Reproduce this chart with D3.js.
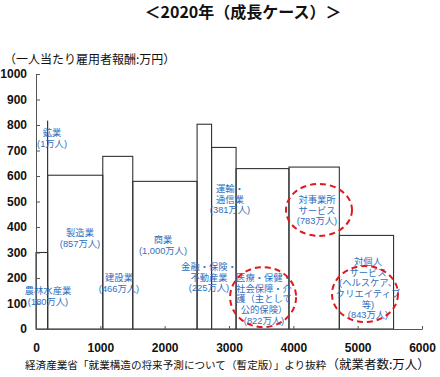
<!DOCTYPE html>
<html><head><meta charset="utf-8">
<script src="https://cdn.jsdelivr.net/npm/d3@7"></script>
<style>
html,body{margin:0;padding:0;background:#fff;}
svg{display:block;}
text{font-family:"Liberation Sans",Arial,"Noto Sans CJK JP",sans-serif;}
.jp{font-family:"Noto Sans CJK JP","Liberation Sans",sans-serif;}
</style>
</head><body>
<script>
// ---- data ----
const industries = ["農林水産業","鉱業","製造業","建設業","商業","金融・保険・不動産業","運輸・通信業","医療・保健・社会保障・介護","対事業所サービス","対個人サービス"];
const workers = [180, 1, 857, 466, 1000, 225, 381, 822, 783, 843];           // 万人
const pay = [300, 815, 603, 677, 579, 803, 712, 629, 635, 367];              // 万円
const labelLines = [
  ["農林水産業","(180万人)"],
  ["鉱業","(1万人)"],
  ["製造業","(857万人)"],
  ["建設業","(466万人)"],
  ["商業","(1,000万人)"],
  ["金融・保険・","不動産業","(225万人)"],
  ["運輸・","通信業","(381万人)"],
  ["医療・保健・","社会保障・介","護（主として","公的保険）","(822万人)"],
  ["対事業所","サービス","(783万人)"],
  ["対個人","サービス","(ヘルスケア、","クリエイティブ","等)","(843万人)"]
];
const xTicks = [0,1000,2000,3000,4000,5000,6000];
const yTicks = [0,100,200,300,400,500,600,700,800,900,1000];
const highlighted = ["医療・保健・社会保障・介護","対事業所サービス","対個人サービス"];

// ---- layout (not data) ----
const W = 440, H = 377;
const labelAnchor = [ // [x in 万人, y in 万円] of first line centre
  [187, 149], [249, 769], [684, 376], [1290, 200], [1974, 349],
  [2689, 243], [3016, 549], [3544, 200], [4368, 507], [5161, 263]
];
const ellipseCenter = { // [x 万人, y 万円]
  "医療・保健・社会保障・介護": [3530, 125],
  "対事業所サービス": [4399, 467],
  "対個人サービス": [5114, 137]
};
const ellipseR = { "医療・保健・社会保障・介護": [33,30], "対事業所サービス": [33,26], "対個人サービス": [33,28] };

const svg = d3.select("body").append("svg").attr("width", W).attr("height", H);
const x = d3.scaleLinear().domain([0, 6000]).range([36, 422]);
const y = d3.scaleLinear().domain([0, 1000]).range([329, 74]);

const starts = [0, ...d3.cumsum(workers)].slice(0, workers.length);
const rows = industries.map((n, i) => ({name: n, start: starts[i], w: workers[i], pay: pay[i], lines: labelLines[i], anchor: labelAnchor[i]}));

// title
svg.append("text").attr("class","jp").attr("x", 243).attr("y", 18).attr("text-anchor","middle")
  .attr("font-size", 16).attr("font-weight", "bold").attr("fill","#111").text("＜2020年（成長ケース）＞");
// y title
svg.append("text").attr("class","jp").attr("x", 4).attr("y", 64).attr("font-size", 12).attr("fill","#111")
  .text("（一人当たり雇用者報酬:万円）");

// bars
svg.append("g").selectAll("rect").data(rows).join("rect")
  .attr("x", d => x(d.start)).attr("width", d => x(d.start + d.w) - x(d.start))
  .attr("y", d => y(d.pay)).attr("height", d => y(0) - y(d.pay))
  .attr("fill", "none").attr("stroke", "#333").attr("stroke-width", 1.1);

// axes
const yAxis = d3.axisLeft(y).tickValues(yTicks).tickSizeInner(-4).tickSizeOuter(0).tickPadding(9).tickFormat(d3.format("d"));
const gy = svg.append("g").attr("transform", `translate(${x(0)},0)`).call(yAxis);
gy.selectAll("text").attr("font-size", 12).attr("fill", "#111").attr("font-weight","bold");
gy.selectAll("line,path").attr("stroke", "#555");

const xAxis = d3.axisBottom(x).tickValues(xTicks).tickSizeInner(-3).tickSizeOuter(0).tickPadding(14).tickFormat(d3.format("d"));
const gx = svg.append("g").attr("transform", `translate(0,${y(0)})`).call(xAxis);
gx.selectAll("text").attr("font-size", 12).attr("fill", "#111").attr("font-weight","bold");
gx.selectAll("line,path").attr("stroke", "#555");

// labels
const lab = svg.append("g").attr("class","jp").attr("fill", "#2f6fc0").attr("font-size", 9.3).attr("text-anchor","middle");
rows.forEach(d => {
  const t = lab.append("text").attr("x", x(d.anchor[0])).attr("y", y(d.anchor[1]));
  d.lines.forEach((ln, k) => {
    t.append("tspan").attr("x", x(d.anchor[0])).attr("dy", k === 0 ? "0.35em" : "10.6").text(ln);
  });
});

// dashed ellipses
svg.append("g").selectAll("ellipse").data(highlighted).join("ellipse")
  .attr("cx", d => x(ellipseCenter[d][0])).attr("cy", d => y(ellipseCenter[d][1]))
  .attr("rx", d => ellipseR[d][0]).attr("ry", d => ellipseR[d][1])
  .attr("fill","none").attr("stroke","#e0191e").attr("stroke-width", 2).attr("stroke-dasharray","6,4");

// source note
const src = svg.append("text").attr("class","jp").attr("x", 25).attr("y", 369).attr("fill","#111");
src.append("tspan").attr("font-size", 10.6).text("経済産業省「就業構造の将来予測について（暫定版）」より抜粋");
src.append("tspan").attr("font-size", 12.5).text("（就業者数:万人）");
</script>
</body></html>
